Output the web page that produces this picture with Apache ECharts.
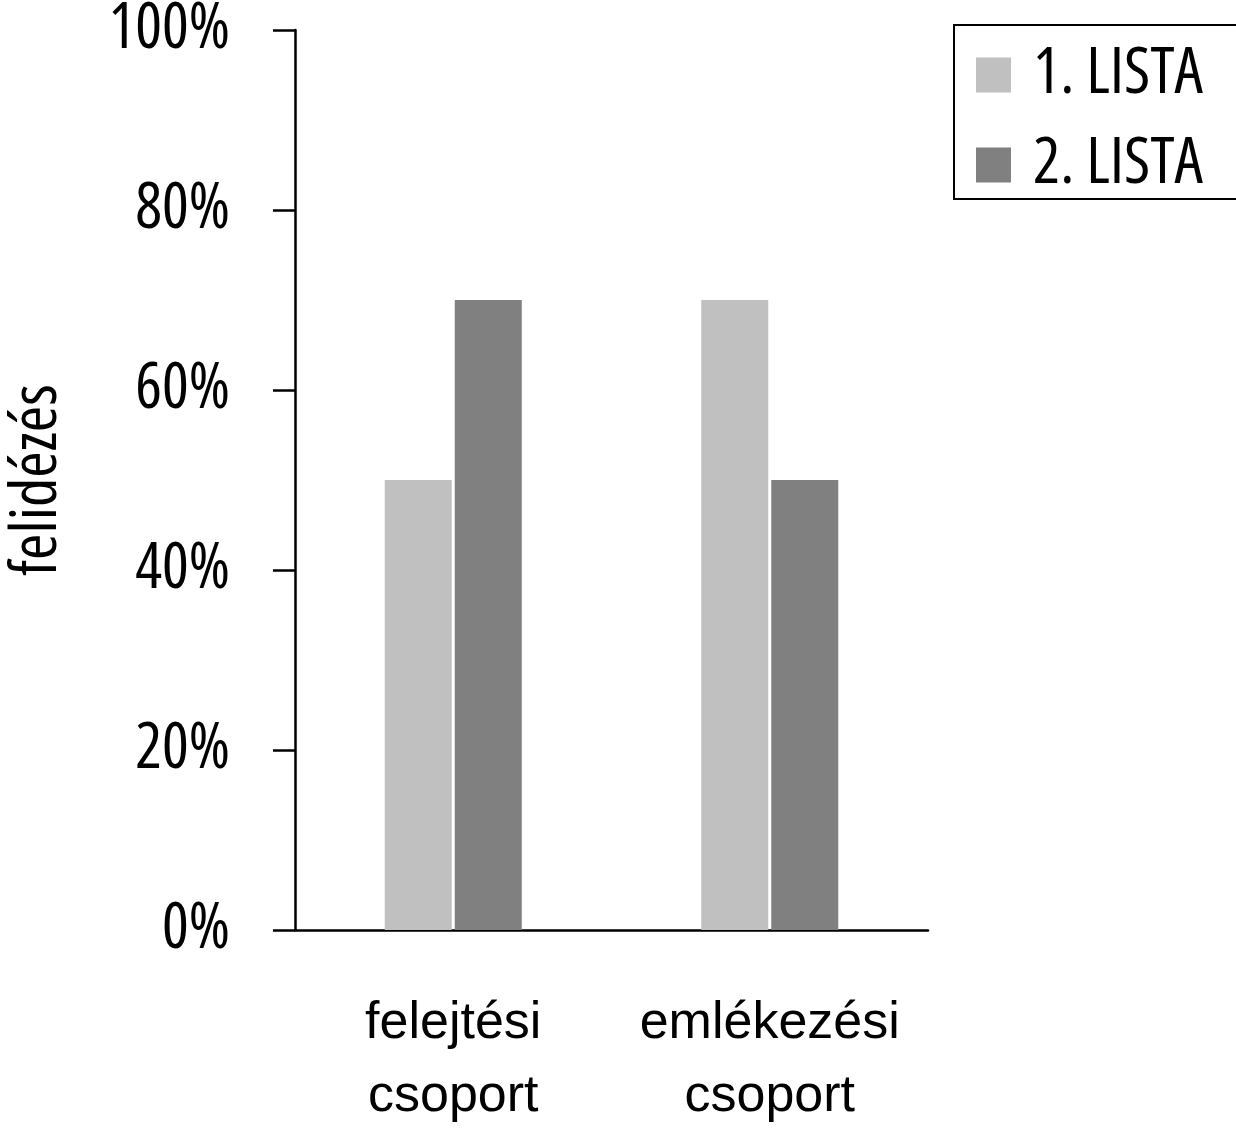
<!DOCTYPE html>
<html>
<head>
<meta charset="utf-8">
<script src="https://cdn.jsdelivr.net/npm/echarts@6/dist/echarts.min.js"></script>
<style>
html,body{margin:0;padding:0;background:#fff;}
#chart{width:1236px;height:1134px;}
</style>
</head>
<body>
<div id="chart"></div>
<script>
const categories = ['felejtési\ncsoport', 'emlékezési\ncsoport'];
const seriesNames = ['1. LISTA', '2. LISTA'];
const lista1 = [50, 70];
const lista2 = [70, 50];
const yTicks = [0, 20, 40, 60, 80, 100];
const yAxisName = 'felidézés';

const NARROW = "'Open Sans', 'Liberation Sans', Arial, sans-serif";
const REGULAR = "'Liberation Sans', Arial, sans-serif";
const chart = echarts.init(document.getElementById('chart'));
chart.setOption({
  animation: false,
  backgroundColor: '#fff',
  grid: { left: 295, right: 308, top: 30, bottom: 204, outerBoundsMode: 'none' },
  graphic: [{
    type: 'rect', shape: { x: 954, y: 25, width: 320, height: 174 },
    style: { fill: 'none', stroke: '#000', lineWidth: 2 }
  }],
  legend: {
    orient: 'vertical', left: 976, top: 43, padding: 0,
    itemWidth: 35, itemHeight: 35, itemGap: 26, icon: 'rect',
    textStyle: { fontStyle: 'normal condensed', fontFamily: NARROW, fontSize: 64, lineHeight: 60,
      color: '#000', padding: [0, 0, 0, 17] },
    data: seriesNames
  },
  xAxis: {
    type: 'category', data: categories,
    axisLine: { lineStyle: { color: '#000', width: 2.5 } },
    axisTick: { length: 20, lineStyle: { color: '#000', width: 2.5 } },
    axisLabel: { interval: 0, fontFamily: REGULAR, fontSize: 52,
      lineHeight: 73, color: '#000', margin: 57 }
  },
  yAxis: {
    type: 'value', min: 0, max: 100, interval: 20,
    name: yAxisName, nameLocation: 'middle', nameGap: 225,
    nameTextStyle: { fontStyle: 'normal condensed', fontFamily: NARROW, fontSize: 64, color: '#000' },
    axisLine: { show: true, lineStyle: { color: '#000', width: 2.5 } },
    axisTick: { show: true, length: 22, lineStyle: { color: '#000', width: 2.5 } },
    splitLine: { show: false },
    axisLabel: {
      fontStyle: 'normal condensed', fontFamily: NARROW, fontSize: 63, color: '#000', margin: 65,
      formatter: v => (yTicks.includes(v) ? v + '%' : '')
    }
  },
  series: [
    { name: seriesNames[0], type: 'bar', data: lista1, barWidth: 67, barGap: '4.5%',
      itemStyle: { color: '#c0c0c0' } },
    { name: seriesNames[1], type: 'bar', data: lista2, barWidth: 67,
      itemStyle: { color: '#808080' } }
  ]
});
</script>
</body>
</html>
